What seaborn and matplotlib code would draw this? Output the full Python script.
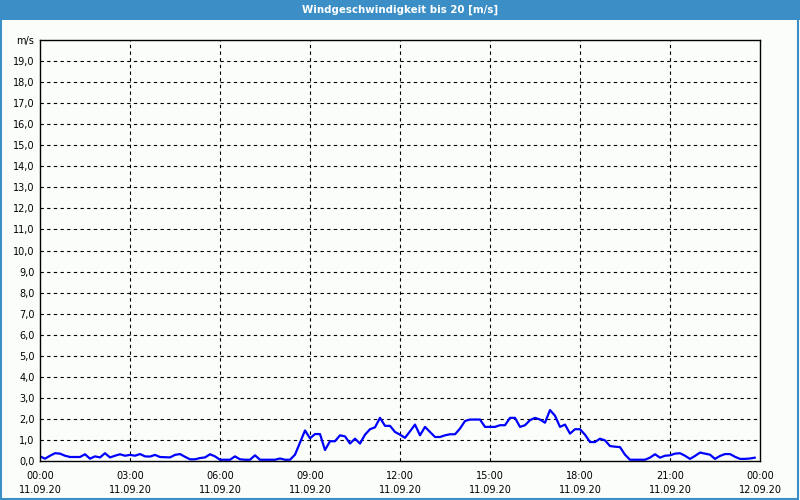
import numpy as np
import pandas as pd
import seaborn as sns
import matplotlib.pyplot as plt
from matplotlib.patches import Rectangle

# wind speed in m/s, one reading every 10 minutes from 00:00 to 23:50
minutes = list(range(0, 1440, 10))
speed = [
    0.22, 0.11, 0.25, 0.37, 0.35, 0.25, 0.19, 0.19, 0.19, 0.32,
    0.11, 0.22, 0.17, 0.37, 0.17, 0.25, 0.32, 0.25, 0.29, 0.25,
    0.33, 0.22, 0.21, 0.29, 0.19, 0.18, 0.17, 0.29, 0.33, 0.20,
    0.08, 0.08, 0.14, 0.17, 0.32, 0.22, 0.06, 0.06, 0.06, 0.22,
    0.08, 0.06, 0.06, 0.27, 0.06, 0.06, 0.06, 0.06, 0.12, 0.06,
    0.06, 0.30, 0.88, 1.45, 1.08, 1.28, 1.28, 0.52, 0.94, 0.94,
    1.22, 1.17, 0.83, 1.06, 0.83, 1.25, 1.51, 1.60, 2.05, 1.67,
    1.67, 1.38, 1.25, 1.10, 1.41, 1.73, 1.22, 1.62, 1.38, 1.14,
    1.14, 1.22, 1.27, 1.27, 1.54, 1.90, 1.97, 1.97, 1.97, 1.62,
    1.62, 1.62, 1.70, 1.70, 2.05, 2.05, 1.62, 1.70, 1.94, 2.05,
    1.97, 1.82, 2.42, 2.15, 1.62, 1.73, 1.30, 1.51, 1.51, 1.25,
    0.90, 0.90, 1.06, 0.98, 0.71, 0.68, 0.66, 0.30, 0.06, 0.06,
    0.06, 0.06, 0.16, 0.32, 0.16, 0.25, 0.27, 0.35, 0.37, 0.25,
    0.10, 0.24, 0.40, 0.35, 0.30, 0.10, 0.24, 0.33, 0.33, 0.20,
    0.10, 0.10, 0.12, 0.16,
]

x_ticks = [0, 3, 6, 9, 12, 15, 18, 21, 24]
x_labels = ["00:00\n11.09.20", "03:00\n11.09.20", "06:00\n11.09.20",
            "09:00\n11.09.20", "12:00\n11.09.20", "15:00\n11.09.20",
            "18:00\n11.09.20", "21:00\n11.09.20", "00:00\n12.09.20"]
y_ticks = list(range(0, 21))
y_labels = [f"{v},0" for v in range(0, 20)] + ["m/s"]
title = "Windgeschwindigkeit bis 20 [m/s]"

df = pd.DataFrame({"hour": np.array(minutes) / 60, "speed": speed})

sns.set_style("white")
plt.rcParams["font.family"] = ["DejaVu Sans"]

bg = "#fbfdfb"
blue = "#3c8fc6"
fig = plt.figure(figsize=(8, 5), dpi=100, facecolor=bg)
ax = fig.add_axes([40 / 800, 39 / 500, 720 / 800, 421 / 500])
ax.set_facecolor(bg)

sns.lineplot(data=df, x="hour", y="speed", color="#0000ff", linewidth=1.6, ax=ax)

ax.set_xlim(0, 24)
ax.set_ylim(0, 20)
ax.set_xticks(x_ticks)
ax.set_xticklabels(x_labels, fontsize=7, linespacing=1.5)
ax.set_xticks(range(0, 25), minor=True)
ax.set_yticks(y_ticks)
ax.set_yticklabels(y_labels, fontsize=7)
ax.set_xlabel("")
ax.set_ylabel("")
ax.tick_params(axis="x", which="both", direction="out", length=4, width=0.8,
               colors="black", pad=3)
ax.tick_params(axis="y", length=0, pad=4, colors="black")

for y in y_ticks[1:-1]:
    ax.axhline(y, color="black", linewidth=0.8, linestyle=(0, (3, 3)), zorder=0)
for x in x_ticks[1:-1]:
    ax.axvline(x, color="black", linewidth=0.8, linestyle=(0, (3, 3)), zorder=0)

for s in ax.spines.values():
    s.set_color("black")
    s.set_linewidth(1.0)

# window frame and title bar
fig.patches.append(Rectangle((0, 480 / 500), 1, 20 / 500, transform=fig.transFigure,
                             facecolor=blue, edgecolor="none", zorder=0))
fig.patches.append(Rectangle((0.001, 0.002), 0.997, 0.996, transform=fig.transFigure,
                             facecolor="none", edgecolor=blue, linewidth=1.5, zorder=0))
fig.text(0.5, 490 / 500, title, color="white", fontsize=7.4, fontweight="bold",
         ha="center", va="center")

fig.savefig("out.png", dpi=100, facecolor=bg)
